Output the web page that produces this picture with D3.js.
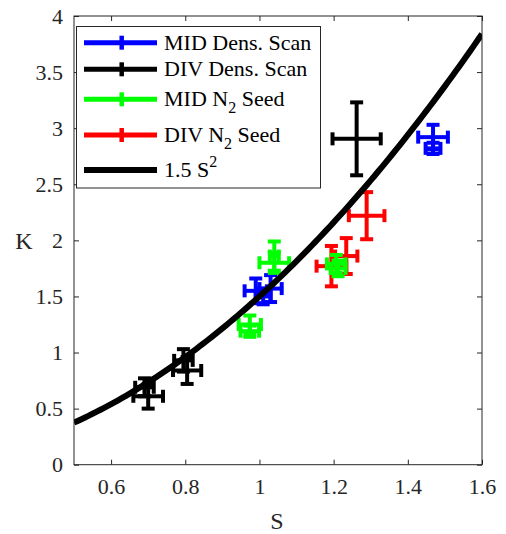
<!DOCTYPE html>
<html>
<head>
<meta charset="utf-8">
<script src="https://cdn.jsdelivr.net/npm/d3@7"></script>
<style>
  html, body { margin: 0; padding: 0; background: #fff; }
  svg { display: block; }
</style>
</head>
<body>
<svg id="chart" width="506" height="534"></svg>
<script>
// ---- data ----
const xTicks = [0.6, 0.8, 1, 1.2, 1.4, 1.6];
const yTicks = [0, 0.5, 1, 1.5, 2, 2.5, 3, 3.5, 4];

const midDensS    = [0.99, 1.03, 1.01, 1.468, 1.468];
const midDensK    = [1.55, 1.57, 1.50, 2.92, 2.82];
const midDensSErr = [0.03, 0.03, 0.02, 0.04, 0.02];
const midDensKErr = [0.11, 0.12, 0.07, 0.11, 0.05];

const divDensS    = [0.69, 0.70, 0.795, 0.805, 1.262];
const divDensK    = [0.69, 0.61, 0.93, 0.84, 2.905];
const divDensSErr = [0.025, 0.04, 0.025, 0.038, 0.065];
const divDensKErr = [0.08, 0.11, 0.10, 0.12, 0.325];

const midN2S    = [1.04, 1.04, 0.974, 0.974, 1.207, 1.212];
const midN2K    = [1.86, 1.80, 1.25, 1.19, 1.79, 1.75];
const midN2SErr = [0.012, 0.04, 0.03, 0.025, 0.025, 0.02];
const midN2KErr = [0.13, 0.09, 0.08, 0.05, 0.08, 0.07];

const divN2S    = [1.194, 1.234, 1.289];
const divN2K    = [1.77, 1.86, 2.22];
const divN2SErr = [0.04, 0.03, 0.048];
const divN2KErr = [0.18, 0.16, 0.21];

const fitCoef = 1.5;
const fitS = d3.range(0.5, 1.6001, 0.01);

const legendLabels = ["MID Dens. Scan", "DIV Dens. Scan", "MID N2 Seed", "DIV N2 Seed", "1.5 S2"];

// ---- layout ----
const FONT = "'Liberation Serif', 'Times New Roman', Times, 'DejaVu Serif', serif";
const svg = d3.select("#chart").attr("font-family", FONT);
const L = 74, R = 482, T = 16, B = 464.7;
const x = d3.scaleLinear().domain([0.5, 1.6]).range([L, R]);
const y = d3.scaleLinear().domain([0, 4]).range([B, T]);
const axisColor = "#262626";
const fs = 22;

// error bars
const capLen = 13, ebW = 4;
function drawSeries(S, K, SE, KE, color) {
  const g = svg.append("g").attr("stroke", color).attr("stroke-width", ebW).attr("fill", "none");
  S.forEach((s, i) => {
    const cx = x(s), cy = y(K[i]);
    const y1 = y(K[i] + KE[i]), y2 = y(K[i] - KE[i]);
    const x1 = x(s - SE[i]), x2 = x(s + SE[i]);
    const segs = [
      [cx, y1, cx, y2], [cx - capLen/2, y1, cx + capLen/2, y1], [cx - capLen/2, y2, cx + capLen/2, y2],
      [x1, cy, x2, cy], [x1, cy - capLen/2, x1, cy + capLen/2], [x2, cy - capLen/2, x2, cy + capLen/2]
    ];
    segs.forEach(sg => g.append("line").attr("x1", sg[0]).attr("y1", sg[1]).attr("x2", sg[2]).attr("y2", sg[3]));
  });
}

svg.append("clipPath").attr("id", "clip").append("rect").attr("x", L).attr("y", T).attr("width", R - L).attr("height", B - T);

drawSeries(midDensS, midDensK, midDensSErr, midDensKErr, "#0000ff");
drawSeries(divDensS, divDensK, divDensSErr, divDensKErr, "#000000");
drawSeries(divN2S, divN2K, divN2SErr, divN2KErr, "#ff0000");
drawSeries(midN2S, midN2K, midN2SErr, midN2KErr, "#00ff00");

// fit curve
svg.append("path")
  .datum(fitS)
  .attr("clip-path", "url(#clip)")
  .attr("d", d3.line().x(d => x(d)).y(d => y(fitCoef * d * d)))
  .attr("fill", "none").attr("stroke", "#000").attr("stroke-width", 6);

// axes frame
svg.append("rect").attr("x", L).attr("y", T).attr("width", R - L).attr("height", B - T)
  .attr("fill", "none").attr("stroke", axisColor).attr("stroke-width", 1);

const xAxisB = d3.axisBottom(x).tickValues(xTicks).tickSize(-5).tickPadding(14).tickFormat(d3.format("~g"));
const yAxisL = d3.axisLeft(y).tickValues(yTicks).tickSize(-5).tickPadding(11).tickFormat(d3.format("~g"));
const xAxisT = d3.axisTop(x).tickValues(xTicks).tickSize(-5).tickFormat("");
const yAxisR = d3.axisRight(y).tickValues(yTicks).tickSize(-5).tickFormat("");

function styleAxis(g) {
  g.attr("font-family", FONT).attr("font-size", fs);
  g.select(".domain").remove();
  g.selectAll(".tick line").attr("stroke", axisColor);
  g.selectAll(".tick text").attr("fill", axisColor);
}
svg.append("g").attr("transform", `translate(0,${B})`).call(xAxisB).call(styleAxis);
svg.append("g").attr("transform", `translate(${L},0)`).call(yAxisL).call(styleAxis);
svg.append("g").attr("transform", `translate(0,${T})`).call(xAxisT).call(styleAxis);
svg.append("g").attr("transform", `translate(${R},0)`).call(yAxisR).call(styleAxis);

// axis labels
svg.append("text").attr("x", 277).attr("y", 529).attr("text-anchor", "middle")
  .attr("fill", axisColor).attr("font-size", 24).text("S");
svg.append("text").attr("x", 24).attr("y", 249).attr("text-anchor", "middle")
  .attr("fill", axisColor).attr("font-size", 24).text("K");

// legend
const lg = svg.append("g");
lg.append("rect").attr("x", 76.5).attr("y", 26.5).attr("width", 244).attr("height", 161.5)
  .attr("fill", "#fff").attr("stroke", axisColor).attr("stroke-width", 1);
const legColors = ["#0000ff", "#000000", "#00ff00", "#ff0000", "#000000"];
const legY = [42.7, 69.3, 99.3, 135, 170];
legendLabels.forEach((lab, i) => {
  const yy = legY[i];
  lg.append("line").attr("x1", 84).attr("x2", 157).attr("y1", yy).attr("y2", yy)
    .attr("stroke", legColors[i]).attr("stroke-width", i === 4 ? 6 : 5);
  if (i < 4) {
    const cx = 121.7;
    lg.append("line").attr("x1", cx).attr("x2", cx).attr("y1", yy - 7).attr("y2", yy + 7)
      .attr("stroke", legColors[i]).attr("stroke-width", 4.5);
  }
  const t = lg.append("text").attr("x", 164).attr("y", yy + 7).attr("fill", "#000").attr("font-size", fs);
  if (i === 2 || i === 3) {
    const base = lab.replace(" N2 Seed", "");
    t.append("tspan").text(base + " N");
    t.append("tspan").attr("dy", 7).attr("font-size", 16).text("2");
    t.append("tspan").attr("dy", -7).text(" Seed");
  } else if (i === 4) {
    t.append("tspan").text("1.5 S");
    t.append("tspan").attr("dy", -10).attr("font-size", 16).text("2");
  } else {
    t.text(lab);
  }
});
</script>
</body>
</html>
